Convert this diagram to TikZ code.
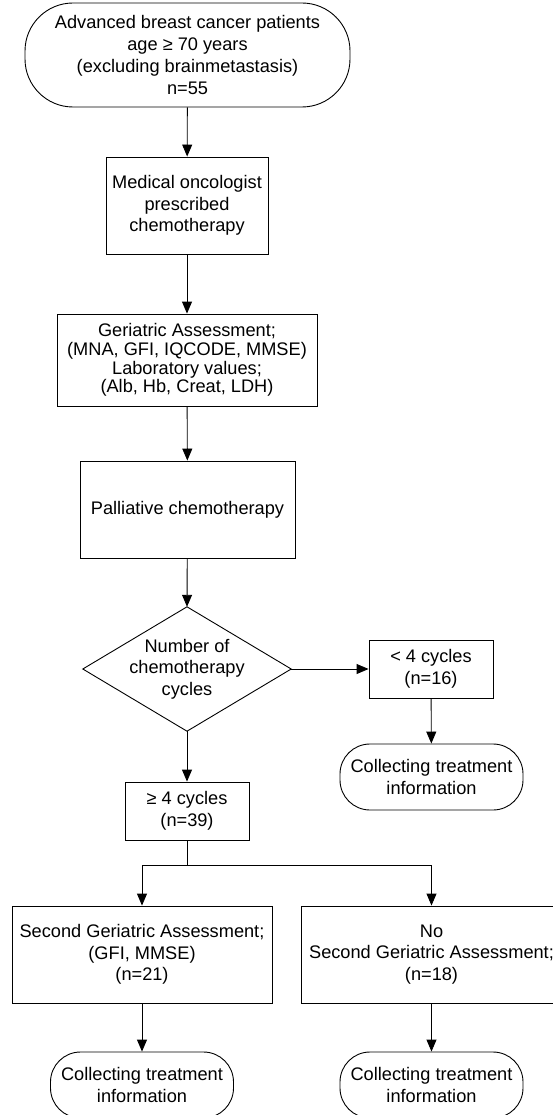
\documentclass[tikz,border=0pt]{standalone}
\usepackage{fontspec}
\setmainfont{Liberation Sans}
\usetikzlibrary{arrows.meta}

\begin{document}
\begin{tikzpicture}[x=1pt,y=-1pt,
  txt/.style={font=\fontsize{18.2}{21.7}\selectfont,align=center,inner sep=0pt},
  box/.style={txt,draw,line width=0.9pt},
  term/.style={box,rounded corners=30pt,minimum width=183pt,minimum height=66pt},
  flow/.style={line width=0.9pt,-{Triangle[length=12pt,width=10pt]}}]
  % Page: picture is cut at the right and bottom edges
  \clip (0,0) rectangle (553,1115);
  % Main column
  \node[box,rounded corners=48pt,minimum width=325pt,minimum height=104pt] (start) at (187.5,55)
    {Advanced breast cancer patients\\age ≥ 70 years\\(excluding brainmetastasis)\\n=55};
  \node[box,minimum width=162pt,minimum height=97pt] (presc) at (187,205.5)
    {Medical oncologist\\prescribed\\chemotherapy};
  \node[box,font=\fontsize{18.2}{18.8}\selectfont,minimum width=260pt,minimum height=92pt] (geri) at (187,360)
    {Geriatric Assessment;\\(MNA, GFI, IQCODE, MMSE)\\Laboratory values;\\(Alb, Hb, Creat, LDH)};
  \node[box,minimum width=215pt,minimum height=97pt] (palli) at (187.5,509.5)
    {Palliative chemotherapy};
  % Decision: diamond drawn on the corners of its node
  \node[txt,minimum width=208pt,minimum height=124pt] (cycles) at (187,669)
    {Number of\\chemotherapy\\cycles};
  \draw[line width=0.9pt] (cycles.north) -- (cycles.east) -- (cycles.south) -- (cycles.west) -- cycle;
  % Fewer than four cycles
  \node[box,minimum width=124pt,minimum height=58pt] (less) at (431,669)
    {< 4 cycles\\(n=16)};
  \node[term] (collA) at (431.5,777) {Collecting treatment\\information};
  % Four cycles or more
  \node[box,minimum width=124pt,minimum height=58pt] (more) at (187,811)
    {≥ 4 cycles\\(n=39)};
  \coordinate (split) at (187,865);
  \node[box,minimum width=260pt,minimum height=97pt] (second) at (142,954.5)
    {Second Geriatric Assessment;\\(GFI, MMSE)\\(n=21)};
  \node[box,minimum width=261pt,minimum height=97pt] (nosecond) at (431.5,954.5)
    {No\\Second Geriatric Assessment;\\(n=18)};
  \node[term] (collB) at (142,1085) {Collecting treatment\\information};
  \node[term] (collC) at (431.5,1085) {Collecting treatment\\information};
  % Connectors
  \draw[flow] (start) -- (presc);
  \draw[flow] (presc) -- (geri);
  \draw[flow] (geri) -- (palli);
  \draw[flow] (palli) -- (cycles.north);
  \draw[flow] (cycles.east) -- (less);
  \draw[flow] (less) -- (collA);
  \draw[flow] (cycles.south) -- (more);
  \draw[line width=0.9pt] (more) -- (split);
  \draw[flow] (split) -| (second);
  \draw[flow] (split) -| (nosecond);
  \draw[flow] (second) -- (collB);
  \draw[flow] (nosecond) -- (collC);
\end{tikzpicture}
\end{document}
